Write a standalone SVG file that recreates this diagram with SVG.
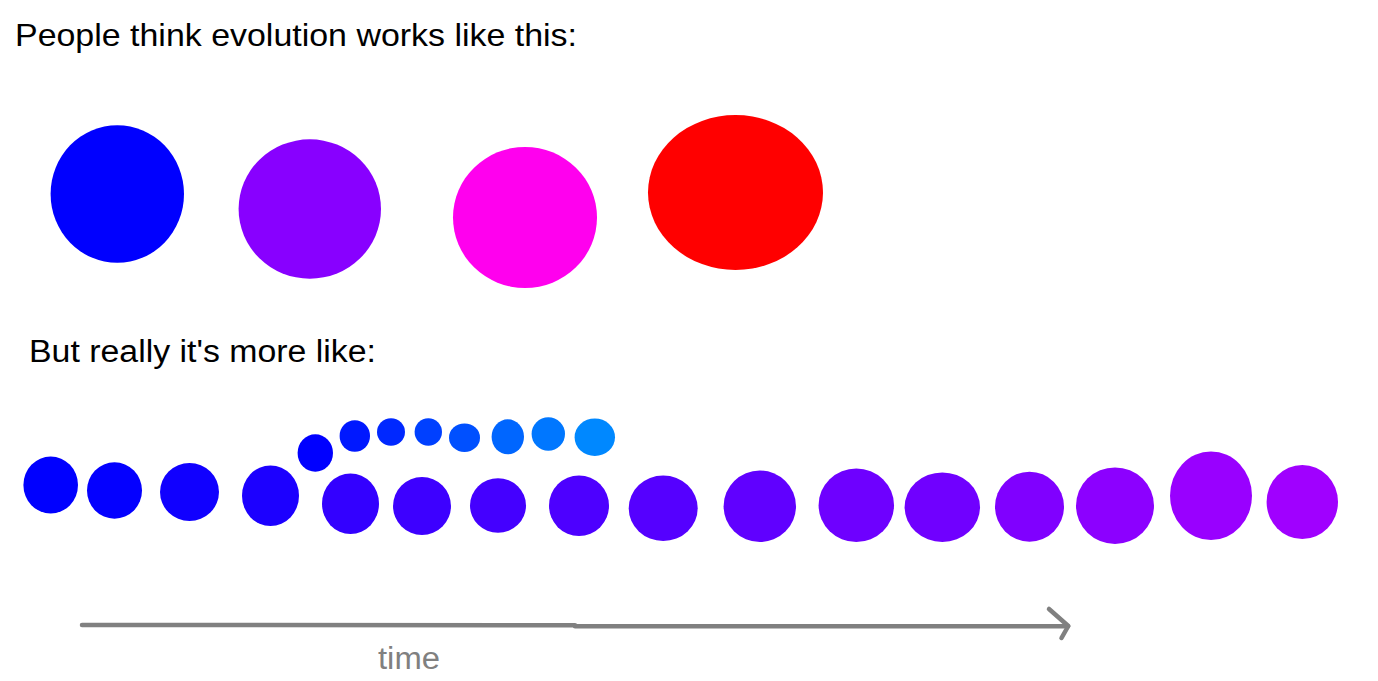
<svg xmlns="http://www.w3.org/2000/svg" width="1378" height="681" viewBox="0 0 1378 681">
<style>
.t{font-family:"Liberation Sans",Arial,sans-serif;fill:#000}
.ax{stroke:#808080;stroke-width:4.5;fill:none;stroke-linecap:round;stroke-linejoin:round}
</style>
<rect width="1378" height="681" fill="#fff"/>
<text class="t" x="15" y="46" font-size="32" textLength="562" lengthAdjust="spacingAndGlyphs">People think evolution works like this:</text>
<text class="t" x="29" y="362" font-size="31" textLength="347" lengthAdjust="spacingAndGlyphs">But really it's more like:</text>
<g id="top">
<ellipse id="n-blue" cx="117.3" cy="194" rx="66.7" ry="68.8" fill="#0000ff"/>
<ellipse id="n-purple" cx="309.8" cy="209" rx="71.2" ry="69.7" fill="#8800ff"/>
<ellipse id="n-magenta" cx="525" cy="217.5" rx="72" ry="70.5" fill="#ff00ee"/>
<ellipse id="n-red" cx="735.5" cy="192.5" rx="87.5" ry="77.5" fill="#ff0000"/>
</g>
<g id="branch">
<ellipse id="s1" cx="315.3" cy="453" rx="17.7" ry="18.8" fill="#0000ff"/>
<ellipse id="s2" cx="354.8" cy="436" rx="15.2" ry="15.8" fill="#0018ff"/>
<ellipse id="s3" cx="391" cy="432" rx="14" ry="13.8" fill="#0028ff"/>
<ellipse id="s4" cx="428.3" cy="432" rx="13.7" ry="13.8" fill="#0040ff"/>
<ellipse id="s5" cx="464.5" cy="437.7" rx="15.5" ry="14.3" fill="#0050ff"/>
<ellipse id="s6" cx="507.8" cy="436.8" rx="16.2" ry="17.5" fill="#0066ff"/>
<ellipse id="s7" cx="548.3" cy="434" rx="16.7" ry="16.7" fill="#0077ff"/>
<ellipse id="s8" cx="594.8" cy="437.2" rx="20.2" ry="18.8" fill="#0088ff"/>
</g>
<g id="main">
<ellipse id="c1" cx="50.7" cy="485" rx="27.3" ry="28.5" fill="#0000ff"/>
<ellipse id="c2" cx="114.5" cy="490.5" rx="27.5" ry="28.2" fill="#0400ff"/>
<ellipse id="c3" cx="189.5" cy="492" rx="29.5" ry="29" fill="#1000ff"/>
<ellipse id="c4" cx="270.5" cy="495.7" rx="28.5" ry="30.3" fill="#1c00ff"/>
<ellipse id="c5" cx="350.5" cy="503.7" rx="28.5" ry="30.3" fill="#3300ff"/>
<ellipse id="c6" cx="422" cy="506" rx="29" ry="29" fill="#3d00ff"/>
<ellipse id="c7" cx="498" cy="505.5" rx="28" ry="27.2" fill="#4400ff"/>
<ellipse id="c8" cx="579" cy="505.7" rx="30" ry="30.3" fill="#4d00ff"/>
<ellipse id="c9" cx="663.2" cy="508.2" rx="34.5" ry="32.8" fill="#5500ff"/>
<ellipse id="c10" cx="759.8" cy="506.2" rx="36.2" ry="35.8" fill="#6000ff"/>
<ellipse id="c11" cx="856.3" cy="505.2" rx="37.7" ry="36.8" fill="#6e00ff"/>
<ellipse id="c12" cx="942.3" cy="507.2" rx="37.7" ry="34.8" fill="#7000ff"/>
<ellipse id="c13" cx="1029.5" cy="506.7" rx="34.5" ry="35" fill="#8000ff"/>
<ellipse id="c14" cx="1115" cy="505.7" rx="39" ry="38.3" fill="#8c00ff"/>
<ellipse id="c15" cx="1211" cy="495.7" rx="41" ry="44.3" fill="#9900ff"/>
<ellipse id="c16" cx="1302.3" cy="502" rx="35.7" ry="37" fill="#a000ff"/>
</g>
<g id="connectors">
<path class="ax" d="M82 625 L575 625.3"/>
<path class="ax" d="M575 626.3 L1068 626.3"/>
<polyline class="ax" points="1049,609 1068.3,626 1061.5,638"/>
</g>
<text x="378" y="669" font-size="31" fill="#808080" font-family="Liberation Sans,Arial,sans-serif" textLength="62" lengthAdjust="spacingAndGlyphs">time</text>
</svg>
